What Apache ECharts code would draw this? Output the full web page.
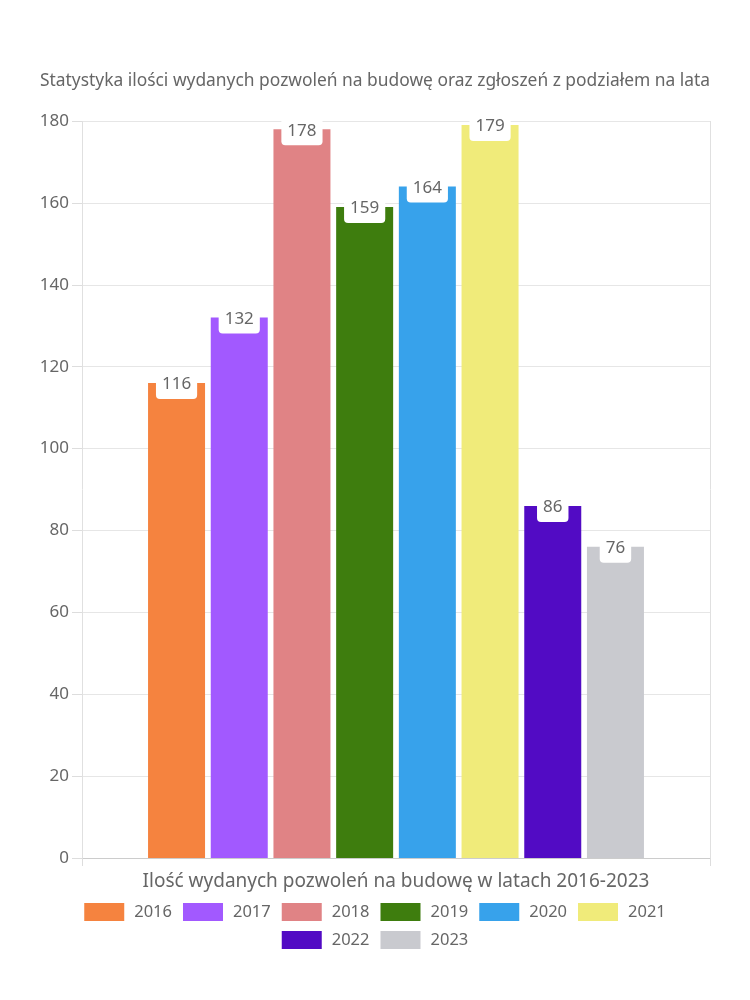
<!DOCTYPE html>
<html>
<head>
<meta charset="utf-8">
<script src="https://cdn.jsdelivr.net/npm/echarts@6/dist/echarts.min.js"></script>
<style>html,body{margin:0;padding:0;background:#fff}#c{width:750px;height:1000px}</style>
</head>
<body>
<div id="c"></div>
<script>
const titleText = 'Statystyka ilości wydanych pozwoleń na budowę oraz zgłoszeń z podziałem na lata';
const axisName = 'Ilość wydanych pozwoleń na budowę w latach 2016-2023';
const categories = [''];
const years = ['2016', '2017', '2018', '2019', '2020', '2021', '2022', '2023'];
const values = [116, 132, 178, 159, 164, 179, 86, 76];
const colors = ['#f5833f', '#a259ff', '#e08385', '#3e7d0e', '#37a2eb', '#f0eb7a', '#520bc4', '#c9cacf'];
const yMin = 0, yMax = 180, yInterval = 20;

const FONT = 'Noto Sans';
const legendBase = {
  left: 'center', itemWidth: 40, itemHeight: 18, itemGap: 11, icon: 'rect', padding: 0,
  textStyle: {fontFamily: FONT, fontSize: 16.5, color: '#666', padding: [0, 0, 0, 5]}
};
const chart = echarts.init(document.getElementById('c'), null, {renderer: 'canvas'});
chart.setOption({
  animation: false,
  textStyle: {fontFamily: FONT},
  title: {
    text: titleText, left: 'center', top: 68,
    textStyle: {fontFamily: FONT, fontSize: 17.4, fontWeight: 'normal', color: '#666'}
  },
  grid: {left: 82, right: 40, top: 121, bottom: 142, containLabel: false},
  legend: [
    Object.assign({data: years.slice(0, 6), top: 903}, legendBase),
    Object.assign({data: years.slice(6), top: 931}, legendBase)
  ],
  xAxis: {
    type: 'category', data: categories,
    name: axisName, nameLocation: 'middle', nameGap: 14,
    nameTextStyle: {fontFamily: FONT, fontSize: 19, color: '#666'},
    axisLine: {lineStyle: {color: '#ccc'}},
    axisTick: {show: true, length: 8, lineStyle: {color: '#ddd'}},
    splitLine: {show: true, lineStyle: {color: '#e0e0e0'}},
    axisLabel: {show: false}
  },
  yAxis: {
    type: 'value', min: yMin, max: yMax, interval: yInterval,
    axisLine: {show: false},
    axisTick: {show: true, length: 10, lineStyle: {color: '#ddd'}},
    splitLine: {lineStyle: {color: '#e6e6e6'}},
    axisLabel: {fontFamily: FONT, fontSize: 17, color: '#666', margin: 13}
  },
  series: years.map((y, i) => ({
    name: y, type: 'bar', data: [values[i]],
    barWidth: 57, barGap: '10%',
    itemStyle: {color: colors[i]},
    label: {
      show: true, position: 'top', distance: -16,
      fontFamily: FONT, fontSize: 17, color: '#666',
      backgroundColor: '#fff', borderRadius: 4, padding: [6, 6]
    }
  }))
});
</script>
</body>
</html>
